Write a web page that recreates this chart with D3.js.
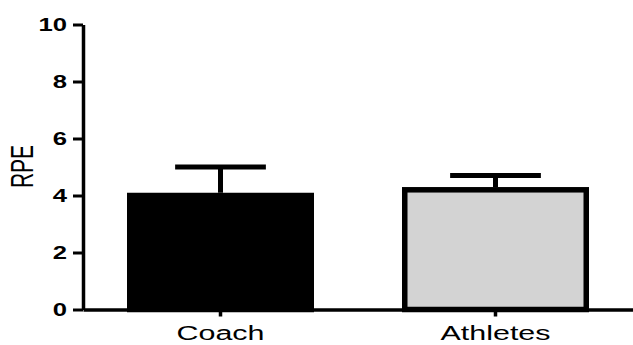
<!DOCTYPE html>
<html>
<head>
<meta charset="utf-8">
<script src="https://cdn.jsdelivr.net/npm/d3@7"></script>
<style>
  html, body { margin: 0; padding: 0; background: #fff; }
  svg { display: block; }
</style>
</head>
<body>
<svg id="chart" width="633" height="345"></svg>
<script>
// Mean RPE reported by coach vs athletes, with SD error bars
const categories = ["Coach", "Athletes"];
const means = [4.0, 4.2];
const sds = [1.0, 0.5];
const fills = ["#000000", "#d3d3d3"];
const yTicks = [0, 2, 4, 6, 8, 10];

const plotLeft = 83, plotRight = 633, plotTop = 24.5, plotBottom = 309.5;
const stretch = 1.45; // horizontal stretch applied to all text

const svg = d3.select("#chart");

const x = d3.scaleBand()
  .domain(categories)
  .range([plotLeft, plotRight])
  .paddingInner(0.34)
  .paddingOuter(0.17);

const y = d3.scaleLinear()
  .domain([0, 10])
  .range([plotBottom, plotTop]);

const rows = categories.map((c, i) => ({ c, mean: means[i], sd: sds[i], fill: fills[i] }));

// bars
svg.append("g")
  .selectAll("rect")
  .data(rows)
  .join("rect")
  .attr("x", d => x(d.c))
  .attr("width", x.bandwidth())
  .attr("y", d => y(d.mean))
  .attr("height", d => y(0) - y(d.mean))
  .attr("fill", d => d.fill)
  .attr("stroke", "#000")
  .attr("stroke-width", 5.5);

// error bars (upper only)
const eb = svg.append("g").attr("stroke", "#000").attr("stroke-width", 5).attr("fill", "none");
eb.selectAll("line.stem")
  .data(rows)
  .join("line")
  .attr("class", "stem")
  .attr("x1", d => x(d.c) + x.bandwidth() / 2)
  .attr("x2", d => x(d.c) + x.bandwidth() / 2)
  .attr("y1", d => y(d.mean) - 2.75)
  .attr("y2", d => y(d.mean + d.sd));
eb.selectAll("line.cap")
  .data(rows)
  .join("line")
  .attr("class", "cap")
  .attr("x1", d => x(d.c) + x.bandwidth() / 2 - x.bandwidth() * 0.25)
  .attr("x2", d => x(d.c) + x.bandwidth() / 2 + x.bandwidth() * 0.25)
  .attr("y1", d => y(d.mean + d.sd))
  .attr("y2", d => y(d.mean + d.sd));

// y axis
const yAxis = svg.append("g")
  .attr("transform", `translate(${plotLeft},0)`)
  .call(d3.axisLeft(y).tickValues(yTicks).tickSize(10).tickSizeOuter(0).tickFormat(d3.format("d")));
yAxis.select(".domain").attr("stroke-width", 3.5).attr("stroke", "#000");
yAxis.selectAll(".tick line").attr("stroke-width", 3).attr("stroke", "#000");
yAxis.selectAll(".tick text")
  .attr("x", -16 / stretch)
  .attr("dy", "0.36em")
  .attr("transform", `scale(${stretch},1)`)
  .attr("fill", "#000")
  .style("font-family", "'Liberation Sans', Arial, sans-serif")
  .style("font-weight", "bold")
  .style("font-size", "17.7px");

// x axis
const xAxis = svg.append("g")
  .attr("transform", `translate(0,${plotBottom})`)
  .call(d3.axisBottom(x).tickSize(7).tickSizeOuter(0));
xAxis.select(".domain").attr("stroke-width", 3.5).attr("stroke", "#000");
xAxis.selectAll(".tick line").attr("stroke-width", 3.5).attr("stroke", "#000");
xAxis.selectAll(".tick text")
  .attr("y", 30.5)
  .attr("dy", 0)
  .attr("transform", `scale(${stretch},1)`)
  .attr("fill", "#000")
  .style("font-family", "'Liberation Sans', Arial, sans-serif")
  .style("font-size", "21px");

// y axis title
svg.append("text")
  .attr("transform", `translate(33.3,166.5) scale(${stretch},1) rotate(-90)`)
  .attr("text-anchor", "middle")
  .attr("fill", "#000")
  .style("font-family", "'Liberation Sans', Arial, sans-serif")
  .style("font-size", "21px")
  .text("RPE");
</script>
</body>
</html>
